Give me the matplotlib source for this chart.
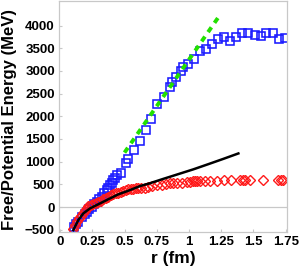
import matplotlib
matplotlib.use("Agg")
import matplotlib.pyplot as plt

# Free energy (blue squares)
free_r = [0.11, 0.125, 0.142, 0.168, 0.19, 0.207, 0.225, 0.245, 0.265, 0.284, 0.303, 0.323,
          0.343, 0.362, 0.375, 0.388, 0.40, 0.413, 0.426, 0.444, 0.473, 0.514, 0.53, 0.576,
          0.62, 0.664, 0.703, 0.754, 0.809, 0.853, 0.866, 0.899, 0.935, 0.95, 0.995, 1.04,
          1.085, 1.13, 1.178, 1.227, 1.27, 1.32, 1.364, 1.413, 1.46, 1.515, 1.556, 1.6,
          1.65, 1.70, 1.744]
free_E = [-450, -380, -323, -213, -150, -103, -50, 7, 60, 117, 170, 227,
          300, 374, 430, 485, 540, 595, 632, 705, 756, 962, 1057, 1255,
          1465, 1700, 1935, 2262, 2416, 2650, 2747, 2870, 2996, 3090, 3150, 3253,
          3443, 3473, 3597, 3707, 3744, 3650, 3751, 3840, 3840, 3795, 3766, 3832,
          3832, 3707, 3729]

# Potential energy (red diamonds)
pot_r = [0.098, 0.115, 0.129, 0.145, 0.16, 0.175, 0.19, 0.205, 0.22, 0.24, 0.258, 0.277,
         0.297, 0.316, 0.336, 0.355, 0.374, 0.393, 0.413, 0.432, 0.452, 0.471, 0.491, 0.51,
         0.53, 0.549, 0.568, 0.588, 0.607, 0.63, 0.66, 0.684, 0.711, 0.749, 0.788, 0.822,
         0.853, 0.878, 0.909, 0.943, 0.982, 1.008, 1.029, 1.047, 1.064, 1.085, 1.124, 1.163,
         1.215, 1.271, 1.323, 1.395, 1.416, 1.434, 1.473, 1.576, 1.692, 1.711, 1.726]
pot_E = [-491, -400, -308, -250, -198, -140, -90, -40, 22, 40, 59, 85,
         110, 140, 170, 200, 227, 255, 280, 300, 315, 335, 352, 370,
         390, 395, 403, 415, 425, 430, 425, 440, 470, 480, 490, 500,
         520, 525, 530, 540, 550, 560, 565, 570, 572, 575, 578, 580,
         582, 585, 588, 588, 590, 588, 590, 590, 588, 590, 588]

# Black curve
fit_r = [0.103, 0.142, 0.181, 0.233, 0.284, 0.336, 0.388, 0.452, 0.53, 0.62, 0.692, 0.8,
         0.9, 1.033, 1.15, 1.27, 1.383]
fit_E = [-507, -286, -139, -29, 44, 117, 191, 280, 360, 462, 520, 620,
         710, 830, 945, 1065, 1181]

# Green dashed linear
lin_r = [0.5, 1.227]
lin_E = [1200, 4178]

xticks = [0, 0.25, 0.5, 0.75, 1, 1.25, 1.5, 1.75]
xticklabels = ["0", "0.25", "0.5", "0.75", "1", "1.25", "1.5", "1.75"]
yticks = [-500, 0, 500, 1000, 1500, 2000, 2500, 3000, 3500, 4000]

plt.rcParams['font.family'] = ['Liberation Sans', 'DejaVu Sans']

fig = plt.figure(figsize=(3.0, 2.72), dpi=100)
ax = fig.add_axes([59/300, 40/272, 228/300, 231/272])

gray = '#c8c8c8'
ax.axhline(0, color=gray, lw=0.9, zorder=0)

ax.plot(free_r, free_E, linestyle='none', marker='s', markersize=5.2,
        markerfacecolor='none', markeredgecolor='#1a1aff', markeredgewidth=1.15, zorder=2)
ax.plot(pot_r, pot_E, linestyle='none', marker='D', markersize=5.0,
        markerfacecolor='none', markeredgecolor='#ff1a1a', markeredgewidth=1.0, zorder=2)
ax.plot(lin_r, lin_E, color='#22e000', lw=2.8, dashes=(1.5, 1.4), zorder=3)
ax.plot(fit_r, fit_E, color='black', lw=1.8, zorder=4)

ax.set_xlim(-0.008, 1.76)
ax.set_ylim(-550, 4540)
ax.set_xticks(xticks)
ax.set_xticklabels(xticklabels)
ax.set_yticks(yticks)

for s in ax.spines.values():
    s.set_color(gray)
    s.set_linewidth(0.9)
ax.tick_params(direction='in', length=2.5, width=0.8, color=gray,
               labelsize=9.5, pad=3)
for lab in ax.get_xticklabels() + ax.get_yticklabels():
    lab.set_fontweight('bold')

ax.set_xlabel('r (fm)', fontsize=12.5, fontweight='bold', labelpad=2)
ax.set_ylabel('Free/Potential Energy (MeV)', fontsize=12, fontweight='bold')
ax.yaxis.set_label_coords(-0.185, 0.487)

fig.savefig('out.png', dpi=100)
